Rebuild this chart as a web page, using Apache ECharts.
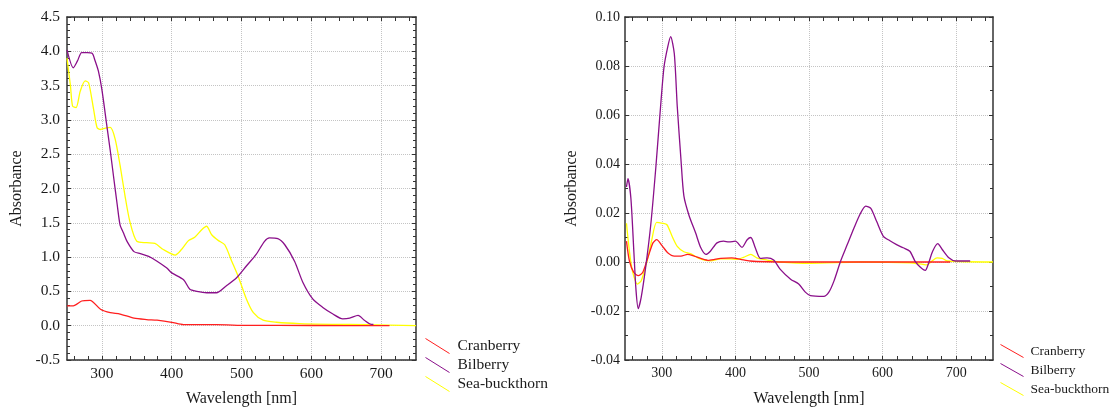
<!DOCTYPE html>
<html>
<head>
<meta charset="utf-8">
<script src="https://cdn.jsdelivr.net/npm/echarts@6/dist/echarts.min.js"></script>
<style>
html,body{margin:0;padding:0;background:#fff;}
#main{width:1110px;height:412px;}
</style>
</head>
<body>
<div id="main"></div>
<script>
// ---------- data ----------
const seriesNames = ['Cranberry', 'Bilberry', 'Sea-buckthorn'];

// Left panel: absorbance spectra
const leftCranberryNm  = [250,259,271,283,298,312,326,346,364,379,400,417,464,507,600,712];
const leftCranberryAbs = [0.29,0.29,0.36,0.37,0.24,0.19,0.17,0.11,0.09,0.08,0.05,0.015,0.015,0.005,0.003,0.0];

const leftBilberryNm  = [250,259,265,271,279,286,290,295,300,307,312,317,322,326,331,336,346,355,367,379,393,400,417,426,436,450,464,478,493,507,521,533,540,552,562,576,588,602,616,631,645,655,667,676,686,689];
const leftBilberryAbs = [4.02,3.76,3.86,3.98,3.98,3.97,3.87,3.71,3.44,2.92,2.55,2.15,1.76,1.47,1.35,1.23,1.08,1.05,1.01,0.94,0.84,0.77,0.67,0.53,0.50,0.48,0.48,0.58,0.70,0.87,1.04,1.23,1.28,1.27,1.18,0.94,0.63,0.39,0.27,0.17,0.10,0.11,0.15,0.08,0.02,0.02];

const leftSeaNm  = [250,255,258,263,269,276,281,288,293,298,305,312,319,326,333,340,350,364,376,388,405,414,424,433,443,450,457,467,476,486,496,507,517,531,550,583,631,678,750];
const leftSeaAbs = [3.90,3.49,3.20,3.18,3.42,3.57,3.54,3.16,2.89,2.86,2.88,2.89,2.72,2.34,1.90,1.52,1.23,1.21,1.20,1.11,1.03,1.11,1.24,1.29,1.40,1.45,1.33,1.24,1.18,0.94,0.70,0.39,0.19,0.08,0.05,0.03,0.02,0.015,0.0];

// Right panel: derivative spectra
const rightCranberryNm  = [252,256,262,268,274,281,288,293,301,308,317,326,335,344,353,364,380,395,407,420,443,479,692];
const rightCranberryAbs = [0.0085,0.0004,-0.0043,-0.0056,-0.0043,0.0017,0.0078,0.0091,0.0064,0.0038,0.0024,0.0024,0.0031,0.0024,0.0015,0.0007,0.0015,0.0017,0.0011,0.0004,0.0001,0.0,0.0];

const rightBilberryNm  = [252,254,258,262,265,268,272,278,285,292,299,303,308,312,317,321,326,330,337,346,353,360,366,375,384,391,400,409,416,421,427,434,443,452,461,475,486,495,502,520,527,534,543,552,561,570,577,584,592,601,610,619,628,637,644,651,658,662,668,675,681,690,699,719];
const rightBilberryAbs = [0.0306,0.034,0.026,0.0044,-0.0117,-0.019,-0.0144,-0.0023,0.0152,0.039,0.066,0.0796,0.0877,0.092,0.085,0.0635,0.042,0.027,0.019,0.0118,0.0058,0.0031,0.0044,0.0078,0.0085,0.0082,0.0085,0.006,0.0091,0.010,0.0058,0.0015,0.0017,0.0008,-0.003,-0.007,-0.009,-0.0123,-0.0137,-0.014,-0.0123,-0.0077,0.0004,0.0071,0.0138,0.0199,0.0228,0.0219,0.0165,0.0105,0.0087,0.0071,0.0058,0.0044,0.0004,-0.002,-0.0034,-0.0009,0.0044,0.0075,0.0051,0.0017,0.0004,0.0004];

const rightSeaNm  = [252,256,260,267,272,280,286,293,301,307,314,321,330,339,349,358,366,380,393,402,411,421,429,443,461,502,570,637,655,660,667,674,681,688,750];
const rightSeaAbs = [0.0158,0.0044,-0.0036,-0.009,-0.0077,0.0004,0.0085,0.0162,0.0158,0.0152,0.0105,0.0064,0.0042,0.0034,0.0017,0.0008,0.0005,0.0013,0.0013,0.0011,0.0019,0.0031,0.0017,0.0008,0.0,-0.0005,0.0,-0.0003,-0.001,-0.0012,0.0004,0.0017,0.0015,0.0004,0.0];

// Axis ticks / labels
const xMin = 250, xMax = 750;
const xLabelValues = [300, 400, 500, 600, 700];
const xMinorTickValues = [260,280,300,320,340,360,380,400,420,440,460,480,500,520,540,560,580,600,620,640,660,680,700,720,740];
const leftYMin = -0.5, leftYMax = 4.5, leftYStep = 0.5;
const rightYMin = -0.04, rightYMax = 0.10, rightYStep = 0.02;

const colors = { 'Cranberry': '#ff1f1f', 'Bilberry': '#8a0f8a', 'Sea-buckthorn': '#ffff00' };

// ---------- chart ----------
const FONT = 'Liberation Serif, DejaVu Serif, serif';
const frameColor = '#333';
const gridColor = '#c4c4c4';

function pairs(xs, ys) { return xs.map((x, i) => [x, ys[i]]); }

function xAxesFor(gridIndex, labelSize) {
  return [
    { // main bottom axis: labels + grid lines
      type: 'value', gridIndex, position: 'bottom', min: xMin, max: xMax, interval: 50,
      axisLine: { show: true, onZero: false, lineStyle: { color: frameColor, width: 1.5 } },
      axisTick: { show: false },
      axisLabel: {
        color: '#1a1a1a', fontFamily: FONT, fontSize: labelSize, margin: 6,
        formatter: v => xLabelValues.indexOf(Math.round(v)) >= 0 ? String(Math.round(v)) : ''
      },
      splitLine: { show: true, lineStyle: { color: ['rgba(0,0,0,0)', gridColor], type: 'dotted', width: 1 } },
      name: 'Wavelength [nm]', nameLocation: 'middle', nameGap: 31,
      nameTextStyle: { color: '#1a1a1a', fontFamily: FONT, fontSize: 16 }
    },
    { // bottom tick marks
      type: 'value', gridIndex, position: 'bottom', min: xMin, max: xMax, interval: 50,
      axisLine: { show: false, onZero: false },
      axisTick: { show: true, inside: true, length: 4, customValues: xMinorTickValues, lineStyle: { color: frameColor } },
      axisLabel: { show: false }, splitLine: { show: false }
    },
    { // top frame with ticks
      type: 'value', gridIndex, position: 'top', min: xMin, max: xMax, interval: 50,
      axisLine: { show: true, onZero: false, lineStyle: { color: frameColor, width: 1.5 } },
      axisTick: { show: true, inside: true, length: 4, customValues: xMinorTickValues, lineStyle: { color: frameColor } },
      axisLabel: { show: false }, splitLine: { show: false }
    }
  ];
}

function yAxesFor(gridIndex, min, max, step, decimals, minorSplit, labelSize, labelMargin, nameGap) {
  const common = {
    type: 'value', gridIndex, min, max, interval: step,
    minorTick: { show: true, splitNumber: minorSplit, length: 3, lineStyle: { color: frameColor } },
    axisTick: { show: true, inside: true, length: 4, lineStyle: { color: frameColor } },
  };
  return [
    Object.assign({}, common, {
      position: 'left',
      axisLine: { show: true, onZero: false, lineStyle: { color: frameColor, width: 1.5 } },
      axisLabel: { color: '#1a1a1a', fontFamily: FONT, fontSize: labelSize, margin: labelMargin,
                   formatter: v => v.toFixed(decimals) },
      splitLine: { show: true, lineStyle: { color: gridColor, type: 'dotted', width: 1 } },
      name: 'Absorbance', nameLocation: 'middle', nameGap,
      nameTextStyle: { color: '#1a1a1a', fontFamily: FONT, fontSize: 16 }
    }),
    Object.assign({}, common, {
      position: 'right',
      axisLine: { show: true, onZero: false, lineStyle: { color: frameColor, width: 1.5 } },
      axisLabel: { show: false }, splitLine: { show: false }
    })
  ];
}

function lineSeries(name, xi, yi, data, z) {
  return {
    name, type: 'line', xAxisIndex: xi, yAxisIndex: yi, data,
    showSymbol: false, symbol: 'none', smooth: 0.25, z,
    lineStyle: { color: colors[name], width: 1.3 },
    itemStyle: { color: colors[name] },
    emphasis: { disabled: true }, animation: false
  };
}

function legendFor(left, top, iw, ih, gap, fs, pad) {
  return {
    orient: 'vertical', left, top, itemWidth: iw, itemHeight: ih, itemGap: gap,
    selectedMode: false, symbolKeepAspect: false, padding: 0,
    textStyle: { fontFamily: FONT, fontSize: fs, color: '#1a1a1a', padding: [0, 0, 0, pad] },
    data: seriesNames.map(n => ({
      name: n, icon: 'path://M0,0L24,15',
      itemStyle: { color: 'rgba(0,0,0,0)', borderColor: colors[n], borderWidth: 1 }
    }))
  };
}

const chart = echarts.init(document.getElementById('main'), null, { renderer: 'canvas' });
chart.setOption({
  backgroundColor: '#fff',
  animation: false,
  grid: [
    { left: 67, top: 17, width: 349, height: 346 },
    { left: 625, top: 17, width: 368, height: 346 }
  ],
  legend: [
    legendFor(425, 338, 24, 15, 3, 15.5, 3),
    legendFor(1000, 344, 23, 13, 5, 13.5, 2)
  ],
  xAxis: [].concat(xAxesFor(0, 15.5), xAxesFor(1, 14)),
  yAxis: [].concat(
    yAxesFor(0, leftYMin, leftYMax, leftYStep, 1, 5, 15.5, 7, 42),
    yAxesFor(1, rightYMin, rightYMax, rightYStep, 2, 2, 14, 5, 45)
  ),
  series: [
    lineSeries('Sea-buckthorn', 0, 0, pairs(leftSeaNm, leftSeaAbs), 2),
    lineSeries('Cranberry', 0, 0, pairs(leftCranberryNm, leftCranberryAbs), 3),
    lineSeries('Bilberry', 0, 0, pairs(leftBilberryNm, leftBilberryAbs), 4),
    lineSeries('Sea-buckthorn', 3, 2, pairs(rightSeaNm, rightSeaAbs), 2),
    lineSeries('Cranberry', 3, 2, pairs(rightCranberryNm, rightCranberryAbs), 3),
    lineSeries('Bilberry', 3, 2, pairs(rightBilberryNm, rightBilberryAbs), 4)
  ]
});
</script>
</body>
</html>
